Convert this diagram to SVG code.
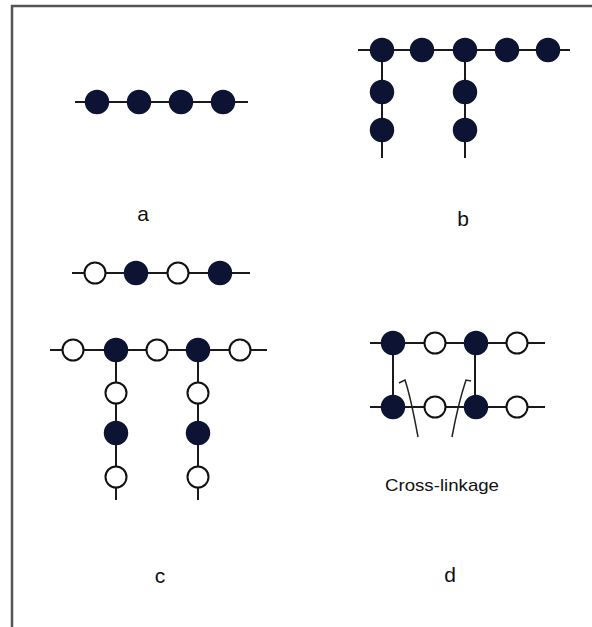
<svg xmlns="http://www.w3.org/2000/svg" width="592" height="627" viewBox="0 0 592 627">
  <defs>
    <style>
      .bond { stroke: #1a1a1a; stroke-width: 2; fill: none; }
      .full { fill: #0d1433; stroke: #0d1433; stroke-width: 1.5; }
      .open { fill: #ffffff; stroke: #111111; stroke-width: 2; }
      .lbl { font-family: "Liberation Sans", "DejaVu Sans", sans-serif; font-size: 21px; fill: #111; text-anchor: middle; }
      .cap { font-family: "Liberation Sans", "DejaVu Sans", sans-serif; font-size: 17px; fill: #111; }
      .frame { stroke: #555; stroke-width: 2.5; fill: none; }
      .arc { stroke: #222; stroke-width: 1.5; fill: none; }
    </style>
  </defs>

  <rect width="592" height="627" fill="#ffffff"/>
  <path class="frame" d="M12,627 V6 H592"/>

  <!-- bonds -->
  <g id="connectors">
    <line class="bond" x1="75" y1="102" x2="248" y2="102"/>

    <line class="bond" x1="358" y1="50" x2="570" y2="50"/>
    <line class="bond" x1="382" y1="50" x2="382" y2="158"/>
    <line class="bond" x1="465" y1="50" x2="465" y2="158"/>

    <line class="bond" x1="72" y1="273" x2="250" y2="273"/>

    <line class="bond" x1="50" y1="350" x2="267" y2="350"/>
    <line class="bond" x1="116" y1="350" x2="116" y2="500"/>
    <line class="bond" x1="198" y1="350" x2="198" y2="500"/>

    <line class="bond" x1="370" y1="343" x2="545" y2="343"/>
    <line class="bond" x1="370" y1="407" x2="545" y2="407"/>
    <line class="bond" x1="393" y1="343" x2="393" y2="407"/>
    <line class="bond" x1="475" y1="343" x2="475" y2="407"/>

    <path class="arc" d="M418,437 C414,415 410,395 405,380 L399,383"/>
    <path class="arc" d="M452,437 C456,415 461,395 466,380 L471,381"/>
  </g>

  <!-- a -->
  <g id="chain-a">
    <circle class="full" cx="97" cy="102" r="11.5"/>
    <circle class="full" cx="139" cy="102" r="11.5"/>
    <circle class="full" cx="181" cy="102" r="11.5"/>
    <circle class="full" cx="223" cy="102" r="11.5"/>
  </g>

  <!-- b -->
  <g id="chain-b">
    <circle class="full" cx="382" cy="50" r="11.5"/>
    <circle class="full" cx="422" cy="50" r="11.5"/>
    <circle class="full" cx="465" cy="50" r="11.5"/>
    <circle class="full" cx="507" cy="50" r="11.5"/>
    <circle class="full" cx="548" cy="50" r="11.5"/>
    <circle class="full" cx="382" cy="92" r="11.5"/>
    <circle class="full" cx="382" cy="130" r="11.5"/>
    <circle class="full" cx="465" cy="92" r="11.5"/>
    <circle class="full" cx="465" cy="130" r="11.5"/>
  </g>

  <!-- c, linear copolymer -->
  <g id="chain-c-linear">
    <circle class="open" cx="95" cy="273" r="10.5"/>
    <circle class="full" cx="136" cy="273" r="11.5"/>
    <circle class="open" cx="178" cy="273" r="10.5"/>
    <circle class="full" cx="220" cy="273" r="11.5"/>
  </g>

  <!-- c, branched copolymer -->
  <g id="chain-c-branched">
    <circle class="open" cx="73" cy="350" r="10.5"/>
    <circle class="full" cx="116" cy="350" r="11.5"/>
    <circle class="open" cx="157" cy="350" r="10.5"/>
    <circle class="full" cx="198" cy="350" r="11.5"/>
    <circle class="open" cx="240" cy="350" r="10.5"/>
    <circle class="open" cx="116" cy="393" r="10.5"/>
    <circle class="full" cx="116" cy="433" r="11.5"/>
    <circle class="open" cx="116" cy="477" r="10.5"/>
    <circle class="open" cx="198" cy="393" r="10.5"/>
    <circle class="full" cx="198" cy="433" r="11.5"/>
    <circle class="open" cx="198" cy="477" r="10.5"/>
  </g>

  <!-- d, cross-linked chains -->
  <g id="chain-d">
    <circle class="full" cx="393" cy="343" r="11.5"/>
    <circle class="open" cx="435" cy="343" r="10.5"/>
    <circle class="full" cx="476" cy="343" r="11.5"/>
    <circle class="open" cx="517" cy="343" r="10.5"/>
    <circle class="full" cx="393" cy="407" r="11.5"/>
    <circle class="open" cx="435" cy="407" r="10.5"/>
    <circle class="full" cx="476" cy="407" r="11.5"/>
    <circle class="open" cx="517" cy="407" r="10.5"/>
  </g>

  <g id="labels">
    <text class="lbl" x="143" y="221">a</text>
    <text class="lbl" x="463" y="226">b</text>
    <text class="lbl" x="160" y="583">c</text>
    <text class="lbl" x="450" y="582">d</text>
    <text class="cap" x="385" y="491" textLength="114" lengthAdjust="spacingAndGlyphs">Cross-linkage</text>
  </g>
</svg>
